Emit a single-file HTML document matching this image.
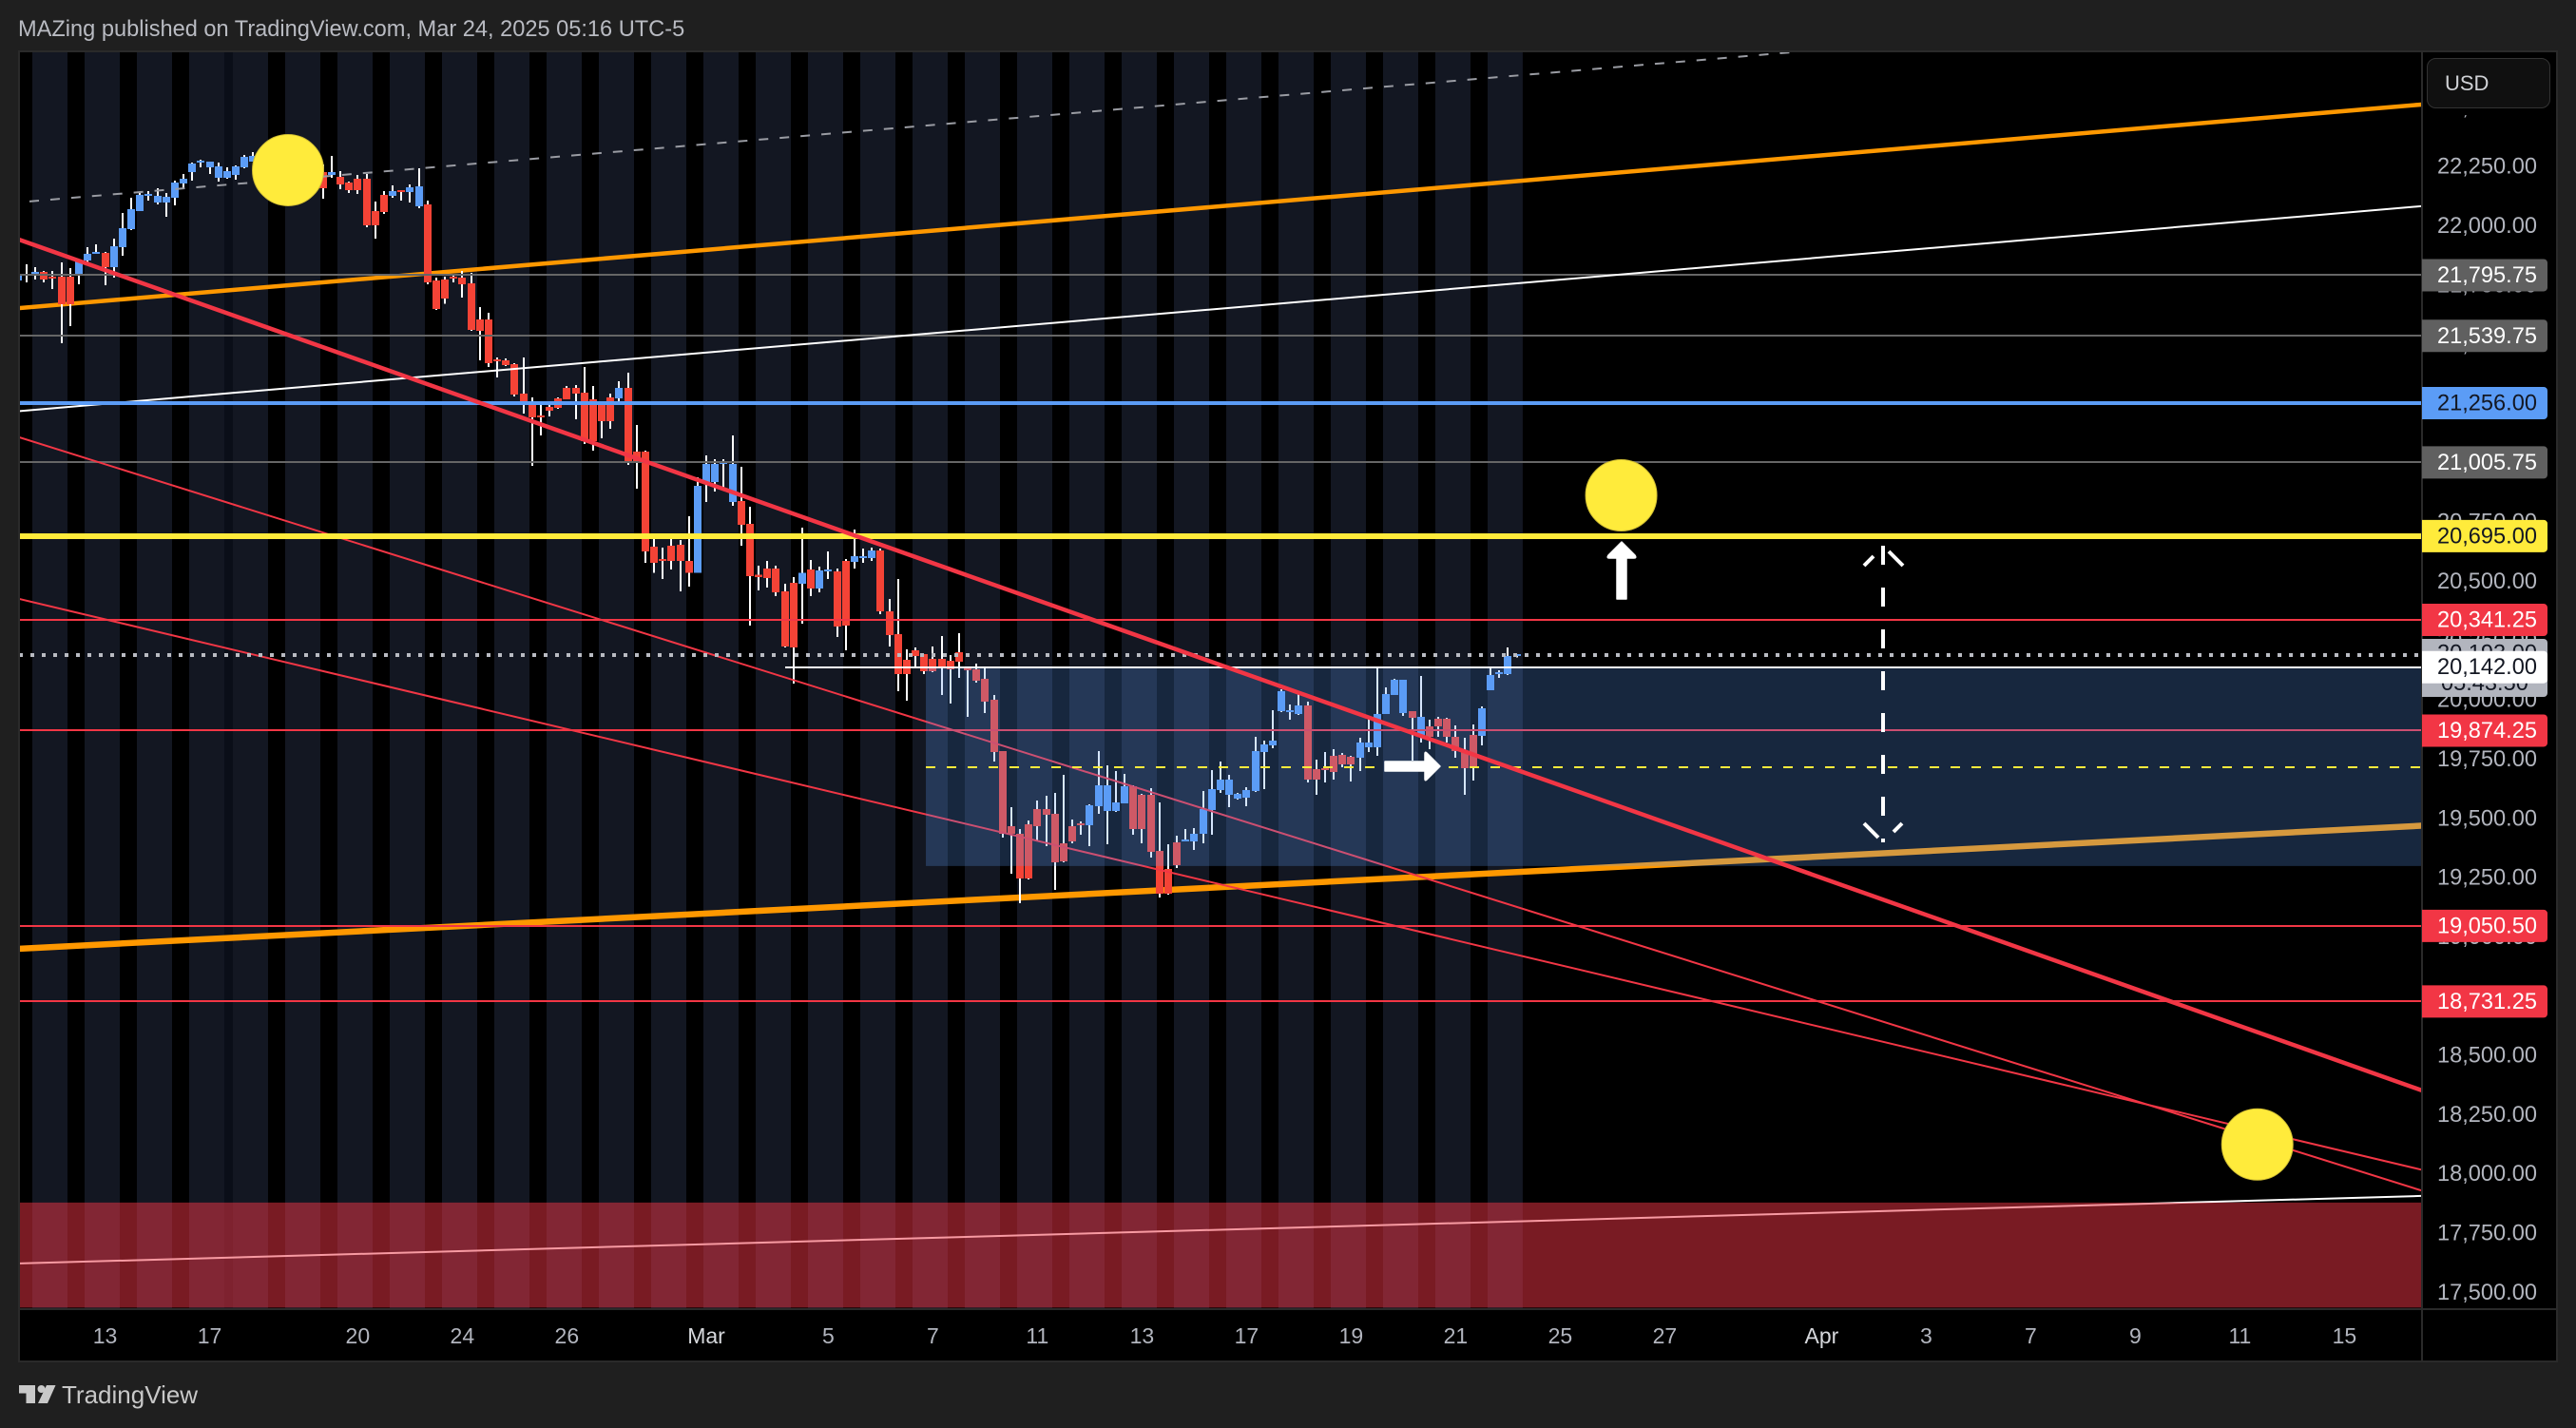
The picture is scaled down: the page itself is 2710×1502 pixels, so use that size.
<!DOCTYPE html>
<html lang="en">
<head>
<meta charset="utf-8">
<title>MAZing published on TradingView.com</title>
<style>
html,body{margin:0;padding:0;background:#1f1f1f;width:2710px;height:1502px;overflow:hidden}
svg{display:block;font-family:"Liberation Sans",sans-serif}
</style>
</head>
<body>
<svg id="chart" xmlns="http://www.w3.org/2000/svg" width="2710" height="1502" viewBox="0 0 2710 1502">
  <defs><clipPath id="plot-clip"><rect x="21" y="55" width="2526" height="1321"/></clipPath></defs>
  <rect x="0" y="0" width="2710" height="1502" fill="#1f1f1f"/>
  <text x="19" y="38" font-size="23.6" fill="#b9bbc2">MAZing published on TradingView.com, Mar 24, 2025 05:16 UTC-5</text>
  <rect x="20" y="54" width="2670" height="1378" fill="#000" stroke="#2a2a2a" stroke-width="2"/>
  <g id="plot" clip-path="url(#plot-clip)"></g>
  <rect x="21" y="1376" width="2669" height="2" fill="#2a2a2a"/>
  <rect x="2547" y="54" width="2" height="1378" fill="#2a2a2a"/>
  <g id="timeAxis"></g>
  <g id="priceAxis"></g>
  <g id="priceBadges"></g>
  <g>
    <rect x="2549" y="55" width="140" height="66" fill="#000"/>
    <rect x="2553.5" y="61.5" width="129" height="52" rx="9" fill="#101010" stroke="#333"/>
    <text x="2572" y="95" font-size="22" fill="#d0d2d6">USD</text>
  </g>
  <g>
    <path fill="#c8c8c8" d="M20 1457h17v19h-9.500v-10.500h-7.500zM49 1457h9.500l-8.500 19h-10z"/>
    <circle cx="43.500" cy="1461" r="4" fill="#c8c8c8"/>
    <text x="65" y="1476" font-size="26" fill="#c8c8c8">TradingView</text>
  </g>
</svg>
<script>
var opens=[21774,21798,21798,21810,21790,21790,21790,21798,21858,21886,21890,21830,21914,21990,22067,22131,22103,22103,22123,22183,22231,22271,22251,22207,22207,22219,22251,22275,22267,22283,22275,22295,22251,22283,22235,22231,22219,22211,22187,22203,22203,22067,22135,22131,22155,22147,22087,22095,21774,21778,21790,21786,21762,21609,21609,21441,21437,21421,21297,21248,21204,21240,21276,21320,21320,21300,21272,21252,21280,21276,21320,21052,21052,20651,20598,20655,20659,20590,20539,20923,20923,21000,20839,20843,20747,20531,20558,20558,20462,20498,20494,20554,20474,20546,20546,20590,20586,20602,20602,20635,20378,20282,20173,20214,20198,20177,20177,20169,20206,20137,20133,20093,20005,19788,19471,19439,19479,19544,19544,19524,19399,19471,19483,19475,19556,19536,19536,19568,19640,19604,19604,19367,19291,19403,19407,19407,19439,19540,19624,19604,19588,19592,19620,19784,19812,19957,19953,19945,19981,19712,19716,19768,19772,19764,19760,19804,19804,19945,20025,19949,19957,19852,19893,19925,19925,19848,19788,19856,19852,20045,20113,20113,20190];
var highs=[21802,21842,21830,21814,21814,21850,21826,21862,21914,21926,21894,21950,22058,22123,22147,22151,22163,22143,22195,22223,22271,22283,22275,22271,22251,22259,22303,22315,22315,22295,22323,22315,22295,22315,22291,22263,22299,22235,22191,22219,22223,22107,22151,22175,22155,22179,22247,22111,21786,21790,21802,21814,21806,21661,21637,21449,21445,21425,21449,21280,21248,21248,21280,21328,21332,21409,21328,21252,21296,21349,21385,21164,21056,20683,20647,20683,20679,20779,20943,21036,21020,21020,21120,20988,20819,20570,20590,20570,20494,20522,20731,20594,20566,20631,20558,20598,20723,20643,20647,20643,20430,20514,20217,20226,20198,20230,20274,20194,20286,20137,20157,20141,20025,19788,19552,19459,19495,19580,19600,19612,19688,19499,19491,19564,19788,19728,19704,19692,19644,19608,19632,19572,19395,19431,19459,19463,19620,19708,19744,19688,19612,19636,19848,19832,19961,20049,19985,20029,19997,19752,19784,19796,19780,19768,19844,19933,20137,20057,20093,20089,19957,20105,19921,19933,19929,19897,19844,19901,19977,20137,20129,20226,20198];
var lows=[21774,21766,21778,21766,21738,21509,21581,21758,21850,21886,21754,21786,21878,21986,22067,22111,22095,22042,22091,22159,22195,22251,22223,22191,22203,22199,22247,22275,22243,22235,22255,22243,22227,22215,22211,22119,22207,22159,22143,22139,21998,21950,22055,22123,22111,22103,22079,21758,21650,21676,21766,21701,21561,21437,21409,21365,21413,21285,21212,20992,21120,21200,21232,21272,21188,21084,21056,21108,21148,21252,20996,20895,20582,20539,20514,20554,20462,20482,20539,20839,20883,20899,20823,20655,20318,20466,20478,20442,20226,20073,20326,20442,20458,20514,20270,20214,20558,20582,20590,20366,20230,20041,20001,20141,20113,20121,20025,19989,20097,19933,20077,19949,19744,19423,19271,19147,19247,19407,19387,19203,19319,19399,19435,19387,19524,19395,19532,19568,19435,19399,19339,19171,19183,19295,19407,19371,19399,19435,19612,19552,19584,19556,19616,19628,19800,19953,19921,19941,19656,19604,19656,19668,19720,19660,19704,19784,19768,19945,20025,19937,19748,19824,19796,19848,19824,19760,19604,19664,19812,20045,20097,20109,20182];
var closes=[21802,21802,21810,21778,21786,21673,21673,21854,21886,21894,21830,21918,21994,22075,22135,22139,22131,22127,22187,22203,22267,22279,22275,22255,22235,22255,22295,22299,22295,22255,22303,22267,22275,22243,22267,22163,22231,22179,22155,22155,22006,22006,22063,22151,22147,22167,22171,21766,21654,21697,21782,21758,21565,21561,21425,21437,21417,21293,21248,21196,21196,21224,21236,21272,21296,21096,21096,21180,21180,21320,21008,21008,20631,20582,20590,20590,20590,20539,20907,21000,21000,21012,21000,20743,20526,20522,20518,20458,20230,20226,20539,20474,20550,20554,20314,20318,20610,20610,20635,20378,20278,20113,20113,20190,20125,20125,20141,20133,20165,20129,20085,19997,19784,19439,19439,19251,19251,19471,19520,19319,19323,19407,19475,19560,19644,19644,19572,19640,19459,19459,19363,19187,19187,19307,19415,19439,19544,19628,19668,19668,19608,19624,19788,19816,19832,20041,19961,19981,19668,19668,19708,19700,19732,19732,19824,19824,19945,20029,20089,20089,19929,19933,19848,19893,19848,19788,19716,19720,19969,20109,20121,20190,20198];
var priceTicks=[22500,22250,22000,21750,21500,21250,21000,20750,20500,20250,20000,19750,19500,19250,19000,18750,18500,18250,18000,17750,17500];
var priceTickLabels=["22,500.00","22,250.00","22,000.00","21,750.00","21,500.00","21,250.00","21,000.00","20,750.00","20,500.00","20,250.00","20,000.00","19,750.00","19,500.00","19,250.00","19,000.00","18,750.00","18,500.00","18,250.00","18,000.00","17,750.00","17,500.00"];
var timeLabels=["13","17","20","24","26","Mar","5","7","11","13","17","19","21","25","27","Apr","3","7","9","11","15"];
var timeTickBars=[10,22,39,51,63,79,93,105,117,129,141,153,165,177,189,207,219,231,243,255,267];
var sessionGapBars=[-0.31,5.69,11.69,17.69,28.69,34.69,40.69,46.69,52.69,58.69,64.69,70.69,76.69,82.69,88.69,94.69,100.69,106.69,112.69,118.69,124.69,130.69,136.69,142.69,148.69,154.69,160.69,166.69];
var grayLevels=[21795.75,21539.75,21005.75];
var redLevels=[20341.25,19874.25,19050.5,18731.25];
var blueLevel=21256;
var yellowLevel=20695;
var lastPrice=20142;
var prevClose=20193;
var yellowMidLevel=19720;
var orangeUpper=[0.13,21657,275.9,22516];
var orangeLower=[0.13,18954,275.9,19473];
var redThick=[0.13,21946,275.9,18356];
var redThinA=[0.13,21112,275.9,17933];
var redThinB=[0.13,20430,275.9,18021];
var whiteUpper=[0.13,21222,275.9,22087];
var whiteLower=[0.13,17626,275.9,17911];
var grayDashed=[1.33,22107,203.5,22736];
var blueZone=[104.2,20138,275.9,19303];
var redZone=[0,17883,275.9,17440];
var markerBars=[31,184,257];
var markerPrices=[22239,20867,18128];

function xs(i){return 18.83+9.167*i;}
function ys(p){return 424+(21256-p)*0.2493;}
var NS='http://www.w3.org/2000/svg';
var plot=document.getElementById('plot');
function mk(parent,tag,attrs){
  var e=document.createElementNS(NS,tag);
  for(var k in attrs){e.setAttribute(k,attrs[k]);}
  parent.appendChild(e);
  return e;
}
var el;
el=mk(plot,'rect',{x:21,y:55,width:xs(172.7)-21,height:1321,fill:'#131722'});


el=mk(plot,'rect',{x:xs(172.7),y:55,width:1000,height:1321,fill:'#000'});


el=mk(plot,'rect',{x:xs(23.69),y:55,width:9,height:1321,fill:'#0a0e18'});


sessionGapBars.forEach(function(b){
  var s=mk(plot,'rect',{x:xs(b),y:55,width:18,height:1321,fill:'#000','shape-rendering':'crispEdges'});
  
  
});
function trend(t,color,w,name,dash){
  var a={x1:xs(t[0]),y1:ys(t[1]),x2:xs(t[2]),y2:ys(t[3]),stroke:color,'stroke-width':w};
  if(dash){a['stroke-dasharray']=dash;}
  var l=mk(plot,'line',a);
  
  
  return l;
}
function level(p,from,color,w,name,dash){
  var a={x1:xs(from),y1:Math.round(ys(p)),x2:2548,y2:Math.round(ys(p)),stroke:color,'stroke-width':w,'shape-rendering':'crispEdges'};
  if(dash){a['stroke-dasharray']=dash;}
  var l=mk(plot,'line',a);
  
  
  return l;
}
trend(orangeUpper,'#ff9800',4.5,'orange-upper-trendline');
trend(orangeLower,'#ff9800',6.5,'orange-lower-trendline');
trend(whiteLower,'#ffffff',2,'white-lower-trendline');
var i;
for(i=0;i<opens.length;i++){
  var isUp=closes[i]>=opens[i];
  var barX=xs(i);
  var wickEl=mk(plot,'rect',{x:Math.round(barX)-1,y:ys(highs[i]),width:2,height:Math.max(1,ys(lows[i])-ys(highs[i])),fill:'#fff','shape-rendering':'crispEdges'});
  
  
  var bodyTop=ys(Math.max(opens[i],closes[i]));
  var bodyBottom=ys(Math.min(opens[i],closes[i]));
  var bodyEl=mk(plot,'rect',{x:Math.round(barX)-4,y:bodyTop,width:8,height:Math.max(2,bodyBottom-bodyTop),fill:isUp?'#5b9cf6':'#f44336','shape-rendering':'crispEdges'});
  
  
}
grayLevels.forEach(function(p){level(p,0.13,'#666666',2,'gray-level-line');});
redLevels.forEach(function(p){level(p,0.13,'#f23645',2,'red-level-line');});
trend(redThinA,'#f23645',2,'thin-red-trendline-a');
trend(redThinB,'#f23645',2,'thin-red-trendline-b');
trend(whiteUpper,'#ffffff',2,'white-upper-trendline');
trend(grayDashed,'#9a9ca3',2,'gray-dashed-trendline','10 12');
el=mk(plot,'rect',{x:xs(blueZone[0]),y:ys(blueZone[1]),width:xs(blueZone[2])-xs(blueZone[0]),height:ys(blueZone[3])-ys(blueZone[1]),fill:'rgba(91,156,246,0.25)'});


el=mk(plot,'rect',{x:xs(redZone[0]),y:ys(redZone[1]),width:xs(redZone[2])-xs(redZone[0]),height:ys(redZone[3])-ys(redZone[1]),fill:'rgba(242,54,69,0.5)'});


level(blueLevel,0.13,'#5b9cf6',4,'blue-level-line');
level(yellowLevel,0.13,'#ffeb3b',6,'yellow-level-line');
level(prevClose,0.13,'#b9bbc2',4,'previous-close-dotted-line','4 8');
level(lastPrice,88.05,'#ffffff',2,'last-price-line');
level(yellowMidLevel,104.2,'#ffeb3b',2,'yellow-dashed-midline','10 12');
trend(redThick,'#f23645',4.5,'red-thick-trendline');
markerBars.forEach(function(b,k){
  var c=mk(plot,'circle',{cx:xs(b),cy:ys(markerPrices[k]),r:37.5,fill:'#ffeb3b',stroke:'#d0bd33','stroke-width':1});
  
  
});
el=mk(plot,'path',{d:'M1706 570 L1720 584 Q1722 587 1719 587 L1711 587 L1711 630 L1701 630 L1701 587 L1693 587 Q1690 587 1692 584 Z',fill:'#fff',stroke:'#fff','stroke-width':1.5,'stroke-linejoin':'round'});


el=mk(plot,'path',{d:'M1515 806 L1501 820 Q1499 822 1499 819 L1499 811 L1457 811 L1457 801 L1499 801 L1499 793 Q1499 790 1501 792 Z',fill:'#fff',stroke:'#fff','stroke-width':1.5,'stroke-linejoin':'round'});


el=mk(plot,'line',{x1:1981,y1:574,x2:1981,y2:886,stroke:'#fff','stroke-width':4,'stroke-dasharray':'20 24','shape-rendering':'crispEdges'});


el=mk(plot,'path',{d:'M1961 595L1971 585M1987 580L2002 595M1961 866L1976 881M2001 866L1992 875',stroke:'#fff','stroke-width':4,fill:'none'});



var timeAxis=document.getElementById('timeAxis');
timeLabels.forEach(function(t,k){
  var e=mk(timeAxis,'text',{x:xs(timeTickBars[k]),y:1413,'font-size':23,'text-anchor':'middle',fill:t==='Mar'||t==='Apr'?'#d6d8dc':'#b2b5be'});
  
  
  e.textContent=t;
});
var priceAxis=document.getElementById('priceAxis');
priceTicks.forEach(function(p,k){
  var e=mk(priceAxis,'text',{x:2564,y:ys(p)+6.5,'font-size':23.6,fill:'#b2b5be'});
  
  
  e.textContent=priceTickLabels[k];
});
var badges=document.getElementById('priceBadges');
function badge(cy,h,bg,fg,label,name,dy){
  var r=mk(badges,'path',{d:'M2548 '+(cy-h/2)+'H2676a4 4 0 0 1 4 4V'+(cy+h/2-4)+'a4 4 0 0 1-4 4H2548Z',fill:bg});
  
  
  var t=mk(badges,'text',{x:2564,y:cy+(dy||7.5),'font-size':23.6,fill:fg});
  
  
  t.textContent=label;
}
badge(702.5,61,'#b2b5be','#131722','20,193.00','previous-close-badge',-8);
var cd=mk(badges,'text',{x:2568,y:726,'font-size':23.6,fill:'#131722'});


cd.textContent='05:43:50';
badge(ys(21795.75),34,'#606060','#ffffff','21,795.75','gray-price-badge');
badge(ys(21539.75),34,'#606060','#ffffff','21,539.75','gray-price-badge');
badge(ys(21256),34,'#5b9cf6','#131722','21,256.00','blue-price-badge');
badge(ys(21005.75),34,'#606060','#ffffff','21,005.75','gray-price-badge');
badge(ys(20695),34,'#ffeb3b','#131722','20,695.00','yellow-price-badge');
badge(ys(20341.25),34,'#f23645','#ffffff','20,341.25','red-price-badge');
badge(ys(20142),34,'#ffffff','#131722','20,142.00','last-price-badge');
badge(ys(19874.25),34,'#f23645','#ffffff','19,874.25','red-price-badge');
badge(ys(19050.5),34,'#f23645','#ffffff','19,050.50','red-price-badge');
badge(ys(18731.25),34,'#f23645','#ffffff','18,731.25','red-price-badge');
</script>
</body>
</html>
